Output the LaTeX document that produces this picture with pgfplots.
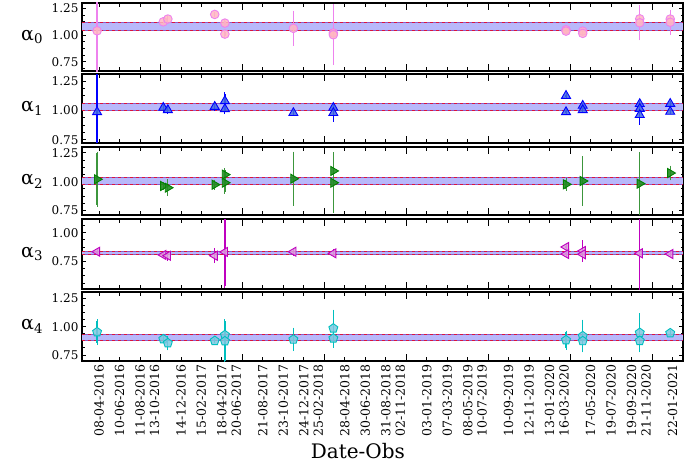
\documentclass[border=0pt]{standalone}
\usepackage{pgfplots}
\pgfplotsset{compat=1.18}
\usepackage{pgfplotstable}
\usepackage{fontspec}
\setmainfont{DejaVu Serif}
\usetikzlibrary{plotmarks}

\definecolor{bandfill}{RGB}{184,184,250}
\definecolor{bandedge}{RGB}{140,90,200}
\definecolor{dashcol}{RGB}{220,20,60}
\definecolor{pinkfill}{RGB}{255,182,193}
\definecolor{pinkedge}{RGB}{238,130,238}
\definecolor{bluefill}{RGB}{65,105,225}
\definecolor{blueedge}{RGB}{0,0,255}
\definecolor{greenfill}{RGB}{34,139,34}
\definecolor{greenedge}{RGB}{0,128,0}
\definecolor{greenbar}{RGB}{60,150,60}
\definecolor{plumfill}{RGB}{221,160,221}
\definecolor{plumedge}{RGB}{191,0,191}
\definecolor{cyanfill}{RGB}{125,200,225}
\definecolor{cyanedge}{RGB}{0,191,191}

\pgfplotstableread{
x y e
92 1.040 0.40
294 1.124 0.02
308 1.150 0.02
451 1.193 0.01
482 1.112 0.02
482 1.009 0.02
691 1.063 0.15
813 1.020 0.02
813 1.003 0.27
1523 1.050 0.01
1523 1.037 0.01
1574 1.037 0.01
1574 1.016 0.01
1748 1.152 0.02
1748 1.115 0.15
1841 1.150 0.02
1841 1.120 0.10
}\tabA
\pgfplotstableread{
x y e
92 0.987 0.40
294 1.024 0.02
308 1.004 0.02
451 1.032 0.02
482 1.081 0.06
482 1.013 0.03
691 0.979 0.01
813 1.024 0.02
813 0.979 0.06
1523 1.126 0.01
1523 0.987 0.01
1574 1.041 0.01
1574 1.004 0.01
1748 1.056 0.01
1748 1.015 0.01
1748 0.962 0.07
1841 1.058 0.01
1841 0.990 0.01
}\tabB
\pgfplotstableread{
x y e
92 1.021 0.225
294 0.963 0.02
308 0.948 0.06
451 0.974 0.03
482 0.991 0.08
482 1.061 0.04
691 1.026 0.22
813 1.093 0.01
813 0.991 0.25
1523 0.977 0.04
1574 1.006 0.20
1748 0.983 0.26
1841 1.075 0.05
}\tabC
\pgfplotstableread{
x y e
92 0.835 0.01
294 0.807 0.01
308 0.800 0.03
451 0.800 0.05
482 0.833 0.30
691 0.835 0.02
813 0.821 0.02
1523 0.876 0.01
1523 0.815 0.01
1574 0.841 0.08
1574 0.813 0.01
1748 0.821 0.35
1841 0.815 0.01
}\tabD
\pgfplotstableread{
x y e
92 0.953 0.10
294 0.891 0.02
308 0.856 0.05
451 0.876 0.01
482 0.927 0.12
482 0.873 0.18
691 0.888 0.09
813 0.986 0.15
813 0.897 0.07
1523 0.882 0.07
1574 0.918 0.13
1574 0.874 0.04
1748 0.947 0.16
1748 0.876 0.08
1841 0.944 0.01
}\tabE

\pgfplotsset{
  panel/.style={
    scale only axis, width=601pt,
    xmin=46, xmax=1880,
    axis line style={line width=1.1pt},
    tick align=inside, tick pos=both,
    every tick/.style={black, line width=0.9pt},
    major tick length=4pt, minor tick length=2.5pt,
    xtick={98,160.5,223,348,410.5,473,598,660.5,723,848,910.5,973,1098,1160.5,1223,1348,1410.5,1473,1598,1660.5,1723,1848},
    extra x ticks={285.5,535.5,785.5,1035.5,1285.5,1535.5,1785.5},
    extra x tick style={major tick length=7pt, xticklabel style={yshift=6pt}},
    xticklabels={}, extra x tick labels={},
    ytick={0.5,0.75,1,1.25}, minor y tick num=3,
    /pgf/number format/.cd, fixed, fixed zerofill, precision=2, assume math mode=true,
    /pgfplots/.cd,
    yticklabel style={font=\fontsize{12}{12}\selectfont},
    xticklabel style={rotate=90, anchor=east, font=\fontsize{12.5}{13}\selectfont},
    ylabel style={rotate=-90, font=\fontsize{19}{20}\selectfont, at={(axis description cs:-0.083,0.5)}, anchor=center},
    clip=true,
  },
  band/.style={draw=none, fill=bandfill, forget plot},
  bandsolid/.style={bandedge, solid, line width=1pt, forget plot},
  bandline/.style={dashcol, dashed, line width=1pt, forget plot},
  ebar/.style={error bars/.cd, y dir=both, y explicit, error mark=-,
     error bar style={draw=#1, solid, line width=1.25pt},
     error mark options={draw=#1, solid, line width=1pt, mark size=1.6pt}},
}

\begin{document}
\begin{tikzpicture}
\useasboundingbox (0pt,0pt) rectangle (685pt,-463pt);

% alpha 0
\begin{axis}[panel, at={(82pt,-3pt)}, anchor=north west, height=68pt,
  ymin=0.664, ymax=1.30, ylabel={α\textsubscript{0}}]
\addplot[band] coordinates {(46,1.040) (1880,1.040) (1880,1.119) (46,1.119)};
\addplot[bandsolid] coordinates {(46,1.040) (1880,1.040)};
\addplot[bandsolid] coordinates {(46,1.119) (1880,1.119)};
\addplot[bandline] coordinates {(46,1.040) (1880,1.040)};
\addplot[bandline] coordinates {(46,1.119) (1880,1.119)};
\addplot[only marks, mark=*, mark size=4.3pt, mark options={fill=pinkfill, draw=pinkedge, line width=0.9pt, fill opacity=0.85}, ebar=pinkedge]
  table[x=x, y=y, y error=e] {\tabA};
\end{axis}

% alpha 1
\begin{axis}[panel, at={(82pt,-74pt)}, anchor=north west, height=69pt,
  ymin=0.722, ymax=1.312, ylabel={α\textsubscript{1}}]
\addplot[band] coordinates {(46,0.996) (1880,0.996) (1880,1.056) (46,1.056)};
\addplot[bandsolid] coordinates {(46,0.996) (1880,0.996)};
\addplot[bandsolid] coordinates {(46,1.056) (1880,1.056)};
\addplot[bandline] coordinates {(46,0.996) (1880,0.996)};
\addplot[bandline] coordinates {(46,1.056) (1880,1.056)};
\addplot[only marks, mark=triangle*, mark size=5.2pt, mark options={fill=bluefill, draw=blueedge, line width=0.9pt, fill opacity=0.85}, ebar=blueedge]
  table[x=x, y=y, y error=e] {\tabB};
\end{axis}

% alpha 2
\begin{axis}[panel, at={(82pt,-147pt)}, anchor=north west, height=68pt,
  ymin=0.712, ymax=1.30, ylabel={α\textsubscript{2}}]
\addplot[band] coordinates {(46,0.980) (1880,0.980) (1880,1.038) (46,1.038)};
\addplot[bandsolid] coordinates {(46,0.980) (1880,0.980)};
\addplot[bandsolid] coordinates {(46,1.038) (1880,1.038)};
\addplot[bandline] coordinates {(46,0.980) (1880,0.980)};
\addplot[bandline] coordinates {(46,1.038) (1880,1.038)};
\addplot[only marks, mark=triangle*, mark size=5.2pt, mark options={rotate=-90, fill=greenfill, draw=greenedge, line width=0.9pt, fill opacity=0.9}, ebar=greenbar]
  table[x=x, y=y, y error=e] {\tabC};
\end{axis}

% alpha 3
\begin{axis}[panel, at={(82pt,-219pt)}, anchor=north west, height=70pt,
  ymin=0.51, ymax=1.12, ylabel={α\textsubscript{3}}]
\addplot[band] coordinates {(46,0.807) (1880,0.807) (1880,0.835) (46,0.835)};
\addplot[bandsolid] coordinates {(46,0.807) (1880,0.807)};
\addplot[bandsolid] coordinates {(46,0.835) (1880,0.835)};
\addplot[bandline] coordinates {(46,0.807) (1880,0.807)};
\addplot[bandline] coordinates {(46,0.835) (1880,0.835)};
\addplot[only marks, mark=triangle*, mark size=5.2pt, mark options={rotate=90, fill=plumfill, draw=plumedge, line width=0.9pt, fill opacity=0.85}, ebar=plumedge]
  table[x=x, y=y, y error=e] {\tabD};
\end{axis}

% alpha 4
\begin{axis}[panel, at={(82pt,-292pt)}, anchor=north west, height=69pt,
  ymin=0.697, ymax=1.307, ylabel={α\textsubscript{4}},
  xticklabels={08-04-2016,10-06-2016,11-08-2016,14-12-2016,15-02-2017,18-04-2017,21-08-2017,23-10-2017,24-12-2017,28-04-2018,30-06-2018,31-08-2018,03-01-2019,07-03-2019,08-05-2019,10-09-2019,12-11-2019,13-01-2020,17-05-2020,19-07-2020,19-09-2020,22-01-2021},
  extra x tick labels={13-10-2016,20-06-2017,25-02-2018,02-11-2018,10-07-2019,16-03-2020,21-11-2020},
  xlabel={Date-Obs},
  xlabel style={font=\fontsize{20}{21}\selectfont, at={(axis description cs:0.459,0)}, anchor=center, yshift=-90pt}]
\addplot[band] coordinates {(46,0.880) (1880,0.880) (1880,0.933) (46,0.933)};
\addplot[bandsolid] coordinates {(46,0.880) (1880,0.880)};
\addplot[bandsolid] coordinates {(46,0.933) (1880,0.933)};
\addplot[bandline] coordinates {(46,0.880) (1880,0.880)};
\addplot[bandline] coordinates {(46,0.933) (1880,0.933)};
\addplot[only marks, mark=pentagon*, mark size=4.7pt, mark options={fill=cyanfill, draw=cyanedge, line width=0.9pt, fill opacity=0.85}, ebar=cyanedge]
  table[x=x, y=y, y error=e] {\tabE};
\end{axis}
\end{tikzpicture}
\end{document}
